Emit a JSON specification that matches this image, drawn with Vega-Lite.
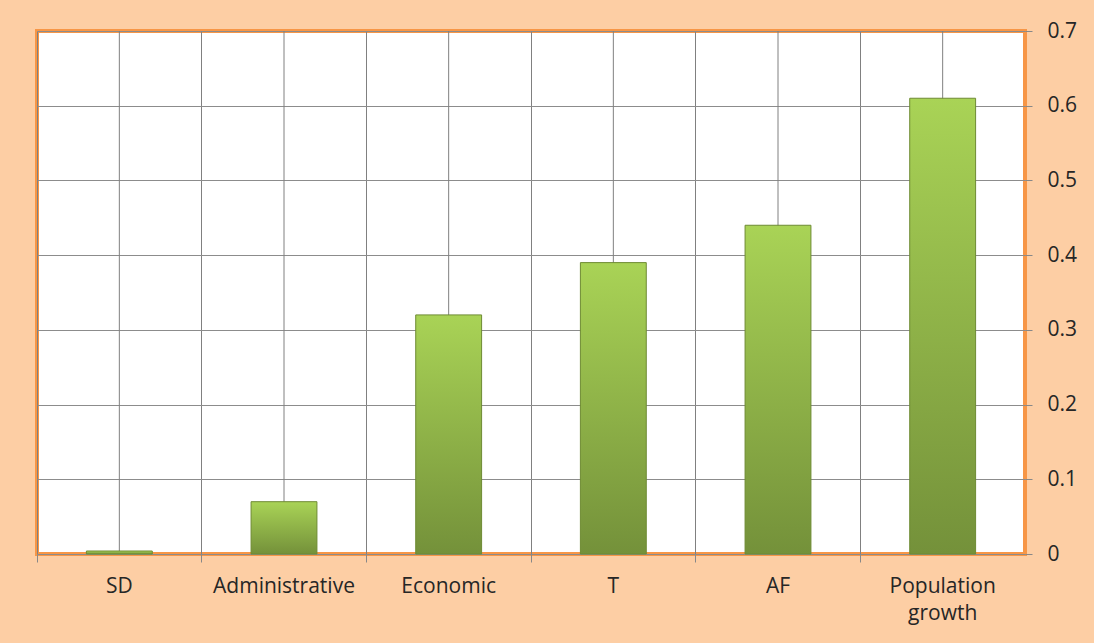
{
  "$schema": "https://vega.github.io/schema/vega-lite/v6.json",
  "width": 988,
  "height": 523,
  "autosize": {"type": "none"},
  "padding": {"left": 37, "top": 31, "right": 69, "bottom": 89},
  "background": "#FDCEA4",
  "config": {
    "view": {"fill": "#FFFFFF", "stroke": "#F79646", "strokeWidth": 4},
    "font": "Open Sans"
  },
  "data": {
    "values": [
      {"category": "SD", "value": 0.004},
      {"category": "Administrative", "value": 0.07},
      {"category": "Economic", "value": 0.32},
      {"category": "T", "value": 0.39},
      {"category": "AF", "value": 0.44},
      {"category": "Population growth", "value": 0.61}
    ]
  },
  "encoding": {
    "x": {
      "field": "category",
      "type": "nominal",
      "sort": null,
      "scale": {"type": "band", "paddingInner": 0, "paddingOuter": 0},
      "axis": {
        "title": null,
        "labelAngle": 0,
        "labelFontSize": 21,
        "labelColor": "#262626",
        "labelPadding": 13,
        "tickSize": 8,
        "tickColor": "#888888",
        "bandPosition": 0,
        "grid": true,
        "gridColor": "#808080",
        "gridWidth": 1,
        "domain": false,
        "labelExpr": "datum.value == 'Population growth' ? ['Population', 'growth'] : datum.value",
        "labelLineHeight": 27
      }
    }
  },
  "layer": [
    {
      "mark": {"type": "rule", "color": "#808080", "strokeWidth": 1},
      "encoding": {}
    },
    {
      "mark": {
        "type": "bar",
        "width": {"band": 0.4},
        "fill": {"gradient": "linear", "x1": 0, "y1": 0, "x2": 0, "y2": 1, "stops": [{"offset": 0, "color": "#A9D356"}, {"offset": 1, "color": "#74913A"}]},
        "stroke": "#6E8B33",
        "strokeWidth": 1
      },
      "encoding": {
        "y": {
          "field": "value",
          "type": "quantitative",
          "scale": {"domain": [0, 0.7], "nice": false},
          "axis": {
            "orient": "right",
            "title": null,
            "values": [0, 0.1, 0.2, 0.3, 0.4, 0.5, 0.6, 0.7],
            "format": ".1~f",
            "labelFontSize": 21,
            "labelColor": "#262626",
            "labelPadding": 15,
            "tickSize": 7,
            "tickColor": "#888888",
            "grid": true,
            "gridColor": "#8C8C8C",
            "gridWidth": 1,
            "domain": false
          }
        }
      }
    }
  ]
}
